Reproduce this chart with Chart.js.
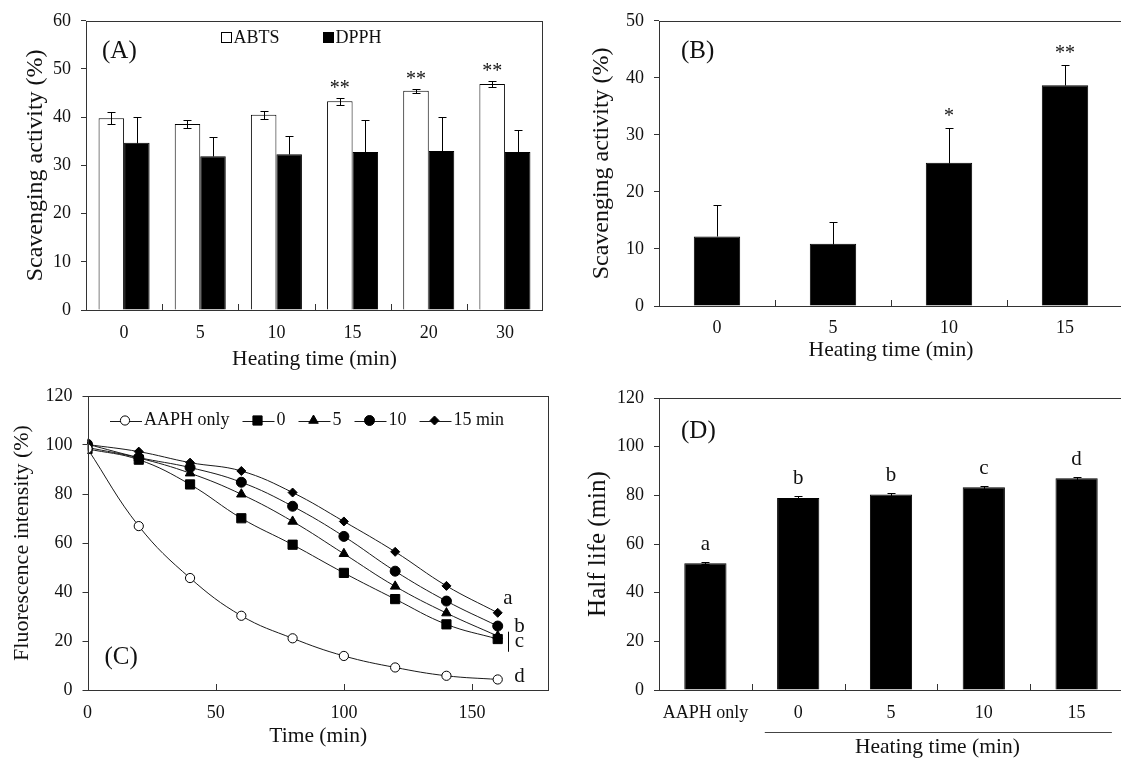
<!DOCTYPE html>
<html>
<head>
<meta charset="utf-8">
<title>Scavenging activity and ORAC half life</title>
<script src="https://cdn.jsdelivr.net/npm/chart.js@4.4.1/dist/chart.umd.min.js"></script>
<style>
  html, body { margin: 0; padding: 0; background: #fff; overflow: hidden; }
  body { position: relative; width: 1121px; height: 761px; }
  canvas { position: absolute; }
</style>
</head>
<body>
<canvas id="chartA" width="560" height="375" style="left:0;top:0"></canvas>
<canvas id="chartB" width="563" height="375" style="left:560px;top:0"></canvas>
<canvas id="chartC" width="560" height="386" style="left:0;top:375px"></canvas>
<canvas id="chartD" width="563" height="386" style="left:560px;top:375px"></canvas>
<script>
// ---- data ----
// (A) ABTS / DPPH scavenging vs heating time
const heatA = ['0', '5', '10', '15', '20', '30'];
const abts = [39.8, 38.6, 40.5, 43.3, 45.5, 46.9];
const abtsErr = [1.3, 0.9, 0.8, 0.7, 0.4, 0.7];
const abtsSig = ['', '', '', '**', '**', '**'];
const dpph = [34.7, 31.9, 32.3, 32.8, 33.0, 32.8];
const dpphErr = [5.3, 4.0, 3.8, 6.6, 7.0, 4.6];

// (B) scavenging activity
const heatB = ['0', '5', '10', '15'];
const scavB = [12.2, 10.9, 25.1, 38.7];
const scavBErr = [5.5, 3.9, 6.1, 3.6];
const sigB = ['', '', '*', '**'];

// (C) fluorescence decay
const timeC = [0, 20, 40, 60, 80, 100, 120, 140, 160];
const aaphOnly = [98.5, 66.9, 45.7, 30.3, 21.1, 13.9, 9.2, 5.8, 4.3];
const heat0 = [98.4, 94.0, 83.9, 70.1, 59.3, 47.8, 37.1, 26.8, 20.8];
const heat5 = [99.0, 94.7, 88.5, 79.9, 68.8, 55.6, 42.3, 31.4, 22.0];
const heat10 = [100.3, 94.9, 90.8, 84.8, 75.0, 62.7, 48.5, 36.3, 26.1];
const heat15 = [100.2, 97.3, 92.8, 89.4, 80.6, 68.8, 56.4, 42.5, 31.5];
const ticksC = [0, 50, 100, 150];

// (D) half life
const catD = ['AAPH only', '0', '5', '10', '15'];
const halfLife = [52.1, 78.9, 80.3, 83.3, 87.0];
const halfLifeErr = [0.5, 0.7, 0.6, 0.6, 0.7];
const lettersD = ['a', 'b', 'b', 'c', 'd'];

// ---- style ----
const serif = "'Liberation Serif', 'Times New Roman', Times, serif";
const ink = '#111';
const frameColor = '#333';
Chart.defaults.font.family = serif;
Chart.defaults.color = ink;

function font(size) { return size + 'px ' + serif; }

function yScale(max, step, title, width, size, pad) {
  return {
    min: 0, max: max,
    ticks: { stepSize: step, color: ink, padding: 10, font: { family: serif, size: 18 } },
    grid: { drawOnChartArea: false, drawTicks: true, tickLength: 5, color: frameColor },
    border: { display: false },
    title: { display: true, text: title, color: ink, font: { family: serif, size: size }, padding: { top: pad, bottom: 0 } },
    afterFit(s) { s.width = width; }
  };
}

function xCategory(height, tickPad, title, titlePad) {
  return {
    grid: { display: false, drawTicks: false },
    border: { display: false },
    ticks: { color: ink, padding: tickPad, font: { family: serif, size: 18 }, maxRotation: 0, autoSkip: false },
    title: title ? { display: true, text: title, color: ink, font: { family: serif, size: 21.5 }, padding: { top: 0, bottom: titlePad } } : { display: false },
    afterFit(s) { s.height = height; }
  };
}

function putText(ctx, str, x, y, size, align, base) {
  ctx.font = font(size);
  ctx.fillStyle = ink;
  ctx.textAlign = align || 'center';
  ctx.textBaseline = base || 'middle';
  ctx.fillText(str, x, y);
}

function innerTicks(chart, values, len) {
  const ctx = chart.ctx, x = chart.scales.x, b = chart.chartArea.bottom;
  ctx.save();
  ctx.strokeStyle = frameColor;
  ctx.lineWidth = 1;
  ctx.beginPath();
  values.forEach(v => {
    const px = Math.round(x.getPixelForValue(v)) + 0.5;
    ctx.moveTo(px, b);
    ctx.lineTo(px, b - len);
  });
  ctx.stroke();
  ctx.restore();
}

function boundaries(n) {
  const out = [];
  for (let i = 0; i < n - 1; i++) out.push(i + 0.5);
  return out;
}

// error bars, significance marks and the plot frame
const common = {
  id: 'common',
  afterDatasetsDraw(chart) {
    const ctx = chart.ctx, y = chart.scales.y;
    ctx.save();
    chart.data.datasets.forEach((ds, di) => {
      if (!ds.errors) return;
      const meta = chart.getDatasetMeta(di);
      meta.data.forEach((el, i) => {
        const v = ds.data[i], e = ds.errors[i];
        const cx = Math.round(el.x) + 0.5;
        const top = Math.round(y.getPixelForValue(v + e)) + 0.5;
        const bot = Math.round(y.getPixelForValue(ds.errorBoth ? v - e : v)) + 0.5;
        ctx.strokeStyle = '#000';
        ctx.lineWidth = 1;
        ctx.beginPath();
        ctx.moveTo(cx, bot); ctx.lineTo(cx, top);
        ctx.moveTo(cx - 4, top); ctx.lineTo(cx + 4, top);
        if (ds.errorBoth) { ctx.moveTo(cx - 4, bot); ctx.lineTo(cx + 4, bot); }
        ctx.stroke();
        if (ds.marks && ds.marks[i]) {
          putText(ctx, ds.marks[i], el.x, top - ds.markGap, ds.markSize, 'center', 'alphabetic');
        }
      });
    });
    ctx.restore();
  },
  afterDraw(chart) {
    const ctx = chart.ctx, a = chart.chartArea;
    ctx.save();
    ctx.strokeStyle = frameColor;
    ctx.lineWidth = 1;
    const l = Math.round(a.left) + 0.5, t = Math.round(a.top) + 0.5;
    const r = Math.round(a.right) - 0.5, b = Math.round(a.bottom) + 0.5;
    ctx.strokeRect(l, t, r - l, b - t);
    ctx.restore();
  }
};

const baseOpts = {
  responsive: false,
  animation: false,
  devicePixelRatio: 1,
  plugins: { legend: { display: false }, tooltip: { enabled: false } }
};

// ---- (A) ----
new Chart(document.getElementById('chartA'), {
  type: 'bar',
  data: {
    labels: heatA,
    datasets: [
      { label: 'ABTS', data: abts, errors: abtsErr, errorBoth: true, marks: abtsSig, markGap: 5, markSize: 20,
        backgroundColor: '#fff', borderColor: '#000', borderWidth: 1 },
      { label: 'DPPH', data: dpph, errors: dpphErr, errorBoth: false,
        backgroundColor: '#000', borderColor: '#000', borderWidth: 1 }
    ]
  },
  options: Object.assign({}, baseOpts, {
    layout: { padding: { left: 0, top: 20, right: 17, bottom: 0 } },
    datasets: { bar: { categoryPercentage: 0.67, barPercentage: 1.0 } },
    scales: {
      x: xCategory(65, 12, 'Heating time (min)', 3),
      y: yScale(60, 10, 'Scavenging activity (%)', 86, 24, 21)
    }
  }),
  plugins: [common, {
    id: 'extraA',
    afterDraw(chart) {
      const ctx = chart.ctx, a = chart.chartArea;
      innerTicks(chart, boundaries(heatA.length), 6);
      putText(ctx, '(A)', a.left + 16, a.top + 31, 25, 'left');
      const items = [{ name: 'ABTS', fill: '#fff', x: 135 }, { name: 'DPPH', fill: '#000', x: 237 }];
      ctx.save();
      items.forEach(it => {
        const bx = Math.round(a.left + it.x) + 0.5, by = Math.round(a.top + 11.5) + 0.5;
        ctx.fillStyle = it.fill;
        ctx.strokeStyle = '#000';
        ctx.lineWidth = 1;
        ctx.fillRect(bx, by, 10, 10);
        ctx.strokeRect(bx, by, 10, 10);
        putText(ctx, it.name, bx + 12, a.top + 17, 18, 'left');
      });
      ctx.restore();
    }
  }]
});

// ---- (B) ----
new Chart(document.getElementById('chartB'), {
  type: 'bar',
  data: {
    labels: heatB,
    datasets: [
      { label: 'Scavenging', data: scavB, errors: scavBErr, errorBoth: false, marks: sigB, markGap: 7, markSize: 20,
        backgroundColor: '#000', borderColor: '#000', borderWidth: 1 }
    ]
  },
  options: Object.assign({}, baseOpts, {
    layout: { padding: { left: 0, top: 16, right: 0, bottom: 0 } },
    datasets: { bar: { categoryPercentage: 1.0, barPercentage: 0.40 } },
    scales: {
      x: xCategory(69, 11, 'Heating time (min)', 12),
      y: yScale(50, 10, 'Scavenging activity (%)', 99, 24, 27)
    }
  }),
  plugins: [common, {
    id: 'extraB',
    afterDraw(chart) {
      const a = chart.chartArea;
      innerTicks(chart, boundaries(heatB.length), 6);
      putText(chart.ctx, '(B)', a.left + 22, a.top + 31, 25, 'left');
    }
  }]
});

// ---- (C) ----
function series(values) { return timeC.map((t, i) => ({ x: t, y: values[i] })); }
const lineBase = { borderColor: '#1a1a1a', borderWidth: 1, tension: 0.4, pointBorderColor: '#000', pointBorderWidth: 1 };
const dsC = [
  Object.assign({ label: 'AAPH only', data: series(aaphOnly), pointStyle: 'circle', pointRadius: 4.6, pointBackgroundColor: '#fff' }, lineBase),
  Object.assign({ label: '0', data: series(heat0), pointStyle: 'rect', pointRadius: 6.5, pointBackgroundColor: '#000' }, lineBase),
  Object.assign({ label: '5', data: series(heat5), pointStyle: 'triangle', pointRadius: 5.5, pointBackgroundColor: '#000' }, lineBase),
  Object.assign({ label: '10', data: series(heat10), pointStyle: 'circle', pointRadius: 5, pointBackgroundColor: '#000' }, lineBase),
  Object.assign({ label: '15 min', data: series(heat15), pointStyle: 'rectRot', pointRadius: 4.5, pointBackgroundColor: '#000' }, lineBase)
];

new Chart(document.getElementById('chartC'), {
  type: 'line',
  data: { datasets: dsC },
  options: Object.assign({}, baseOpts, {
    layout: { padding: { left: 0, top: 21, right: 11, bottom: 0 } },
    scales: {
      x: {
        type: 'linear', min: 0, max: 180,
        afterBuildTicks(s) { s.ticks = ticksC.map(v => ({ value: v })); },
        grid: { display: false, drawTicks: false },
        border: { display: false },
        ticks: { color: ink, padding: 12, font: { family: serif, size: 18 } },
        title: { display: true, text: 'Time (min)', color: ink, font: { family: serif, size: 21.5 }, padding: { top: 0, bottom: 12 } },
        afterFit(s) { s.height = 71; }
      },
      y: yScale(120, 20, 'Fluorescence intensity (%)', 87.5, 22, 9)
    }
  }),
  plugins: [common, {
    id: 'extraC',
    afterDraw(chart) {
      const ctx = chart.ctx, a = chart.chartArea, x = chart.scales.x, y = chart.scales.y;
      innerTicks(chart, ticksC.slice(1), 6);
      putText(ctx, '(C)', a.left + 17, a.bottom - 33, 25, 'left');
      // legend with line + marker
      const help = Chart.helpers;
      let cx = a.left + 22.5;
      const cy = a.top + 24.5;
      ctx.save();
      dsC.forEach(ds => {
        ctx.strokeStyle = '#1a1a1a';
        ctx.lineWidth = 1;
        ctx.beginPath();
        ctx.moveTo(cx, Math.round(cy) + 0.5);
        ctx.lineTo(cx + 32, Math.round(cy) + 0.5);
        ctx.stroke();
        ctx.fillStyle = ds.pointBackgroundColor;
        ctx.strokeStyle = '#000';
        if (help && help.drawPoint) {
          help.drawPoint(ctx, { pointStyle: ds.pointStyle, radius: ds.pointRadius, rotation: 0, borderWidth: 1 }, cx + 15, cy);
        }
        putText(ctx, ds.label, cx + 34, cy, 18, 'left');
        ctx.font = font(18);
        cx += 34 + ctx.measureText(ds.label).width + 13;
      });
      // group letters
      const notes = [
        { t: 'a', x: 164, y: 37.5 },
        { t: 'b', x: 168.5, y: 25.8 },
        { t: 'c', x: 168.5, y: 19.7 },
        { t: 'd', x: 168.5, y: 5.4 }
      ];
      notes.forEach(n => putText(ctx, n.t, x.getPixelForValue(n.x), y.getPixelForValue(n.y), 21, 'center'));
      const bx = Math.round(x.getPixelForValue(164)) + 0.5;
      ctx.strokeStyle = '#000';
      ctx.beginPath();
      ctx.moveTo(bx, y.getPixelForValue(23.8));
      ctx.lineTo(bx, y.getPixelForValue(15.6));
      ctx.stroke();
      ctx.restore();
    }
  }]
});

// ---- (D) ----
new Chart(document.getElementById('chartD'), {
  type: 'bar',
  data: {
    labels: catD,
    datasets: [
      { label: 'Half life', data: halfLife, errors: halfLifeErr, errorBoth: true, marks: lettersD, markGap: 12.5, markSize: 21,
        backgroundColor: '#000', borderColor: '#000', borderWidth: 1 }
    ]
  },
  options: Object.assign({}, baseOpts, {
    layout: { padding: { left: 0, top: 23, right: 0, bottom: 0 } },
    datasets: { bar: { categoryPercentage: 1.0, barPercentage: 0.455 } },
    scales: {
      x: xCategory(71, 12, null, 0),
      y: yScale(120, 20, 'Half life (min)', 99, 25, 23)
    }
  }),
  plugins: [common, {
    id: 'extraD',
    afterDraw(chart) {
      const ctx = chart.ctx, a = chart.chartArea, x = chart.scales.x;
      innerTicks(chart, boundaries(catD.length), 6);
      putText(ctx, '(D)', a.left + 22, a.top + 33, 25, 'left');
      const cw = x.getPixelForValue(1) - x.getPixelForValue(0);
      const x1 = x.getPixelForValue(1) - 0.36 * cw, x2 = x.getPixelForValue(4) + 0.38 * cw;
      const ly = Math.round(a.bottom + 42) + 0.5;
      ctx.save();
      ctx.strokeStyle = '#444';
      ctx.lineWidth = 1;
      ctx.beginPath();
      ctx.moveTo(x1, ly);
      ctx.lineTo(x2, ly);
      ctx.stroke();
      putText(ctx, 'Heating time (min)', (x.getPixelForValue(1) + x.getPixelForValue(4)) / 2, a.bottom + 57, 21.5, 'center');
      ctx.restore();
    }
  }]
});
</script>
</body>
</html>
